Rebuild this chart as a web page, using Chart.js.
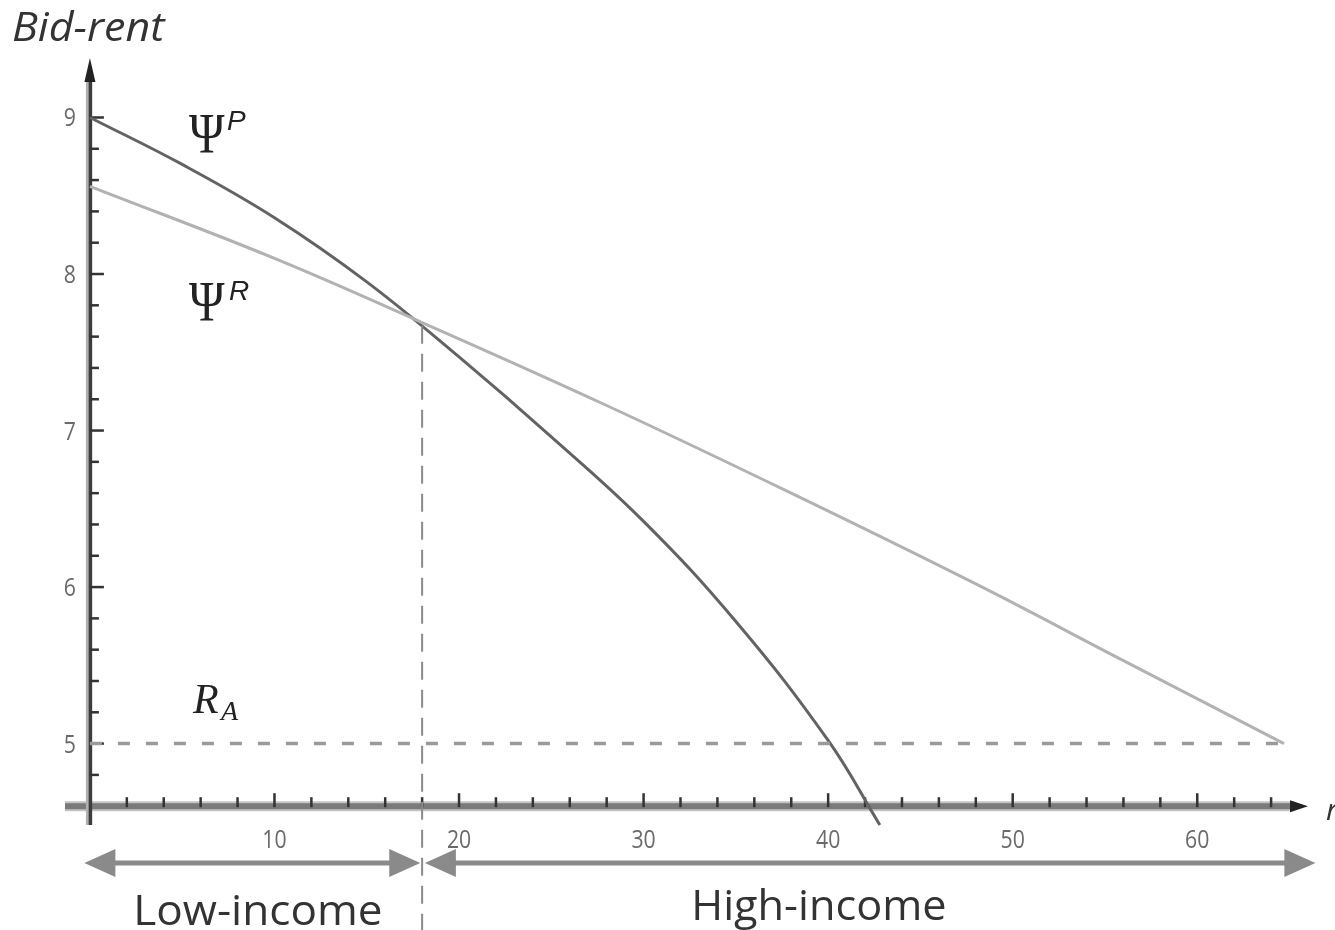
<!DOCTYPE html>
<html><head><meta charset="utf-8">
<script src="https://cdn.jsdelivr.net/npm/chart.js@4.4.1/dist/chart.umd.min.js"></script>
<style>html,body{margin:0;padding:0;background:#fff;}#wrap{width:1335px;height:930px;position:relative;}</style>
</head><body><div id="wrap"><canvas id="c"></canvas></div>
<script>
// ---- data ----
const psiPX = [0, 5, 10, 15, 20, 25, 30, 35, 40, 42.8];
const psiPY = [9.00, 8.70, 8.36, 7.95, 7.47, 6.96, 6.42, 5.78, 5.02, 4.48];
const psiRX = [0, 10, 18, 28, 38, 48, 56, 64.7];
const psiRY = [8.56, 8.10, 7.69, 7.16, 6.60, 6.02, 5.53, 5.00];
const rentAX = [0, 65];
const rentAY = [5, 5];
const boundaryX = [18, 18];
const boundaryY = [7.67, 3.78];
const yTickLabels = [5, 6, 7, 8, 9];
const xTickLabels = [10, 20, 30, 40, 50, 60];
const yMinorTicks = [4.8,5,5.2,5.4,5.6,5.8,6,6.2,6.4,6.6,6.8,7,7.2,7.4,7.6,7.8,8,8.2,8.4,8.6,8.8,9];
const xMinorTicks = [2,4,6,8,10,12,14,16,18,20,22,24,26,28,30,32,34,36,38,40,42,44,46,48,50,52,54,56,58,60,62,64];
const groupNames = ['Low-income', 'High-income'];
const groupSpans = [[-0.3, 17.9], [18.15, 66.4]];
const groupArrowY = 4.237;
const axisTitleY = 'Bid-rent';
const axisTitleX = 'r';

const toPts = (xs, ys) => xs.map((x, i) => ({x: x, y: ys[i]}));

function sText(ctx, s, x, y, font, color, align, sx) {
  ctx.save();
  ctx.font = font; ctx.fillStyle = color; ctx.textAlign = align || 'left'; ctx.textBaseline = 'alphabetic';
  ctx.translate(x, y); ctx.scale(sx || 1, 1);
  ctx.fillText(s, 0, 0);
  ctx.restore();
}

const axesPlugin = {
  id: 'axesPlugin',
  beforeDatasetsDraw(chart) {
    const ctx = chart.ctx, xs = chart.scales.x, ys = chart.scales.y, a = chart.chartArea;
    const x0 = xs.getPixelForValue(0), y0 = ys.getPixelForValue(4.6);
    ctx.save();
    ctx.lineCap = 'butt';
    ctx.strokeStyle = '#c4c4c4'; ctx.lineWidth = 10;
    ctx.beginPath(); ctx.moveTo(a.left, y0); ctx.lineTo(a.right - 14, y0); ctx.stroke();
    ctx.strokeStyle = '#7a7a7a'; ctx.lineWidth = 6;
    ctx.beginPath(); ctx.moveTo(a.left, y0); ctx.lineTo(a.right - 14, y0); ctx.stroke();
    ctx.fillStyle = '#222';
    ctx.beginPath(); ctx.moveTo(a.right, y0); ctx.lineTo(a.right - 18, y0 - 6); ctx.lineTo(a.right - 18, y0 + 6); ctx.closePath(); ctx.fill();
    ctx.strokeStyle = '#b0b0b0'; ctx.lineWidth = 6;
    ctx.beginPath(); ctx.moveTo(x0 - 1, a.top + 18); ctx.lineTo(x0 - 1, a.bottom); ctx.stroke();
    ctx.strokeStyle = '#3c3c3c'; ctx.lineWidth = 3.5;
    ctx.beginPath(); ctx.moveTo(x0 + 0.5, a.top + 18); ctx.lineTo(x0 + 0.5, a.bottom); ctx.stroke();
    ctx.fillStyle = '#222';
    ctx.beginPath(); ctx.moveTo(x0, a.top); ctx.lineTo(x0 - 5.5, a.top + 24); ctx.lineTo(x0 + 5.5, a.top + 24); ctx.closePath(); ctx.fill();
    ctx.strokeStyle = '#333'; ctx.lineWidth = 2.5;
    yMinorTicks.forEach(v => {
      const p = ys.getPixelForValue(v);
      const major = Math.abs(v - Math.round(v)) < 1e-6;
      ctx.beginPath(); ctx.moveTo(x0, p); ctx.lineTo(x0 + (major ? 14 : 9), p); ctx.stroke();
    });
    xMinorTicks.forEach(v => {
      const p = xs.getPixelForValue(v);
      const major = v % 10 === 0;
      ctx.beginPath(); ctx.moveTo(p, y0 + 1); ctx.lineTo(p, y0 - (major ? 13 : 9)); ctx.stroke();
    });
    yTickLabels.forEach(v => {
      const p = ys.getPixelForValue(v);
      sText(ctx, String(v), x0 - 20, p + 9, '25px "Open Sans"', '#6a6a6a', 'center', 0.85);
    });
    xTickLabels.forEach(v => {
      const p = xs.getPixelForValue(v);
      sText(ctx, String(v), p, y0 + 42, '25px "Open Sans"', '#6a6a6a', 'center', 0.85);
    });
    ctx.restore();
  },
  afterDatasetsDraw(chart) {
    const ctx = chart.ctx, xs = chart.scales.x, ys = chart.scales.y;
    const ay = ys.getPixelForValue(groupArrowY);
    ctx.save();
    ctx.fillStyle = '#8a8a8a'; ctx.strokeStyle = '#8a8a8a'; ctx.lineWidth = 5;
    groupSpans.forEach((s, i) => {
      const l = xs.getPixelForValue(s[0]), r = xs.getPixelForValue(s[1]);
      ctx.beginPath(); ctx.moveTo(l + 20, ay); ctx.lineTo(r - 20, ay); ctx.stroke();
      ctx.beginPath(); ctx.moveTo(l, ay); ctx.lineTo(l + 31, ay - 14); ctx.lineTo(l + 31, ay + 14); ctx.closePath(); ctx.fill();
      ctx.beginPath(); ctx.moveTo(r, ay); ctx.lineTo(r - 31, ay - 14); ctx.lineTo(r - 31, ay + 14); ctx.closePath(); ctx.fill();
      const cx = i === 0 ? xs.getPixelForValue(9.1) : xs.getPixelForValue(39.5);
      sText(ctx, groupNames[i], cx, ay + (i === 0 ? 62 : 57), '42px "Open Sans"', '#333', 'center', i === 0 ? 1.05 : 1.03);
    });
    sText(ctx, axisTitleY, 12, 41, 'italic 41px "Open Sans"', '#333', 'left', 1.05);
    sText(ctx, axisTitleX, 1326, 820, 'italic 30px "Open Sans"', '#333', 'left', 1.0);
    sText(ctx, '\u03A8', 189, 153, '56px "Liberation Serif"', '#222', 'left', 0.86);
    sText(ctx, 'P', 227, 130, 'italic 28px "Liberation Sans"', '#222', 'left', 1);
    sText(ctx, '\u03A8', 189, 321, '56px "Liberation Serif"', '#222', 'left', 0.86);
    sText(ctx, 'R', 229, 300, 'italic 28px "Liberation Sans"', '#222', 'left', 1);
    sText(ctx, 'R', 193, 713, 'italic 42px "Liberation Serif"', '#222', 'left', 1);
    sText(ctx, 'A', 221, 720, 'italic 28px "Liberation Serif"', '#222', 'left', 1);
    ctx.restore();
  }
};

new Chart(document.getElementById('c'), {
  type: 'scatter',
  data: {
    datasets: [
      {label: 'R_A', data: toPts(rentAX, rentAY), showLine: true, borderColor: '#9a9a9a', borderWidth: 3.5, borderDash: [12, 16], pointRadius: 0},
      {label: 'boundary', data: toPts(boundaryX, boundaryY), showLine: true, borderColor: '#8a8a8a', borderWidth: 2, borderDash: [18, 10], pointRadius: 0, clip: false},
      {label: '\u03A8R', data: toPts(psiRX, psiRY), showLine: true, borderColor: '#b2b2b2', borderWidth: 3, pointRadius: 0, tension: 0.4},
      {label: '\u03A8P', data: toPts(psiPX, psiPY), showLine: true, borderColor: '#636363', borderWidth: 3, pointRadius: 0, tension: 0.4, clip: false}
    ]
  },
  options: {
    responsive: true, maintainAspectRatio: false, animation: false, devicePixelRatio: 1,
    layout: {padding: {left: 65, right: 27, top: 58, bottom: 105}},
    plugins: {legend: {display: false}, tooltip: {enabled: false}},
    scales: {
      x: {type: 'linear', min: -1.35, max: 66, display: false},
      y: {type: 'linear', min: 4.48, max: 9.38, display: false}
    }
  },
  plugins: [axesPlugin]
});
</script>
</body></html>
